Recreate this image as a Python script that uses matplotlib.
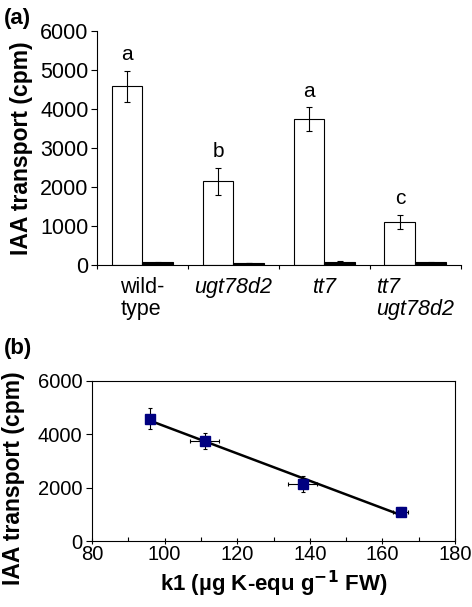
import matplotlib
matplotlib.use("Agg")
import matplotlib.pyplot as plt
import numpy as np

plt.rcParams['font.family'] = ['Liberation Sans', 'DejaVu Sans']

# ---- data panel (a)
categories = ["wild-\ntype", "ugt78d2", "tt7", "tt7\nugt78d2"]
italic = [False, True, True, True]
white_vals = [4580, 2150, 3740, 1100]
white_err = [400, 345, 300, 185]
black_vals = [70, 50, 85, 65]
black_err = [15, 10, 20, 15]
letters = ["a", "b", "a", "c"]

# ---- data panel (b)
k1 = [96, 111, 138, 165]
k1_err = [0.5, 4, 4, 2]
transport = [4580, 3740, 2150, 1100]
transport_err = [400, 300, 300, 180]

fig = plt.figure(figsize=(4.72, 6.07), dpi=100)

# ---------------- panel (a)
ax1 = fig.add_axes([0.2055, 0.5634, 0.771, 0.386])
x = np.arange(len(categories))
w = 0.34
ax1.bar(x - w/2, white_vals, w, color='white', edgecolor='black', linewidth=0.8,
        yerr=white_err, error_kw=dict(ecolor='black', elinewidth=0.8, capsize=2, capthick=0.8))
ax1.bar(x + w/2, black_vals, w, color='black', edgecolor='black', linewidth=0.8,
        yerr=black_err, error_kw=dict(ecolor='black', elinewidth=0.8, capsize=2, capthick=0.8))
for xi, v, e, l in zip(x, white_vals, white_err, letters):
    ax1.text(xi - w/2, v + e + 170, l, ha='center', va='bottom', fontsize=15)
ax1.set_xlim(-0.5, len(categories) - 0.5)
ax1.set_ylim(0, 6000)
ax1.set_yticks(np.arange(0, 6001, 1000))
ax1.set_xticks(np.arange(-0.5, len(categories), 1.0))
ax1.set_xticklabels([])
ax1.tick_params(axis='x', direction='out', length=3, width=0.8)
ax1.tick_params(axis='y', direction='out', length=4, width=0.8, labelsize=15.5, pad=2)
for xi, c, it in zip(x, categories, italic):
    ax1.text(xi, -300, c, ha='center', va='top', fontsize=15.5,
             style='italic' if it else 'normal', multialignment='left',
             linespacing=1.05, transform=ax1.transData)
ax1.spines['top'].set_visible(False)
ax1.spines['right'].set_visible(False)
ax1.spines['left'].set_linewidth(0.8)
ax1.spines['bottom'].set_linewidth(0.8)
ax1.set_ylabel("IAA transport (cpm)", fontsize=16.5, fontweight='bold', labelpad=5)
fig.text(0.008, 0.987, "(a)", fontsize=16, fontweight='bold', va='top', ha='left')

# ---------------- panel (b)
ax2 = fig.add_axes([0.195, 0.1087, 0.769, 0.2641])
slope, intercept = np.polyfit(k1, transport, 1)
xl = np.array([min(k1), max(k1)])
ax2.plot(xl, slope * xl + intercept, color='black', linewidth=1.8, zorder=2)
ax2.errorbar(k1, transport, yerr=transport_err, xerr=k1_err, fmt='s', color='#000080',
             markersize=7, ecolor='black', elinewidth=0.8, capsize=1.5, capthick=0.8, zorder=3)
ax2.set_xlim(80, 180)
ax2.set_ylim(0, 6000)
ax2.set_xticks(np.arange(80, 181, 20))
ax2.set_xticks(np.arange(90, 180, 20), minor=True)
ax2.set_yticks(np.arange(0, 6001, 2000))
ax2.tick_params(axis='x', which='major', direction='inout', length=4, width=0.8, labelsize=14.5, pad=1)
ax2.tick_params(axis='x', which='minor', direction='in', length=3, width=0.8)
ax2.tick_params(axis='y', direction='out', length=4, width=0.8, labelsize=14.5, pad=3)
for s in ax2.spines.values():
    s.set_linewidth(0.8)
ax2.set_ylabel("IAA transport (cpm)", fontsize=16.5, fontweight='bold')
ax2.yaxis.set_label_coords(-0.185, 0.39)
ax2.set_xlabel("k1 (\u00b5g K-equ g$^{\\mathbf{\u2212}\\mathbf{1}}$ FW)", fontsize=16, fontweight='bold', labelpad=3)
fig.text(0.008, 0.443, "(b)", fontsize=16, fontweight='bold', va='top', ha='left')

fig.savefig("out.png", dpi=100)
